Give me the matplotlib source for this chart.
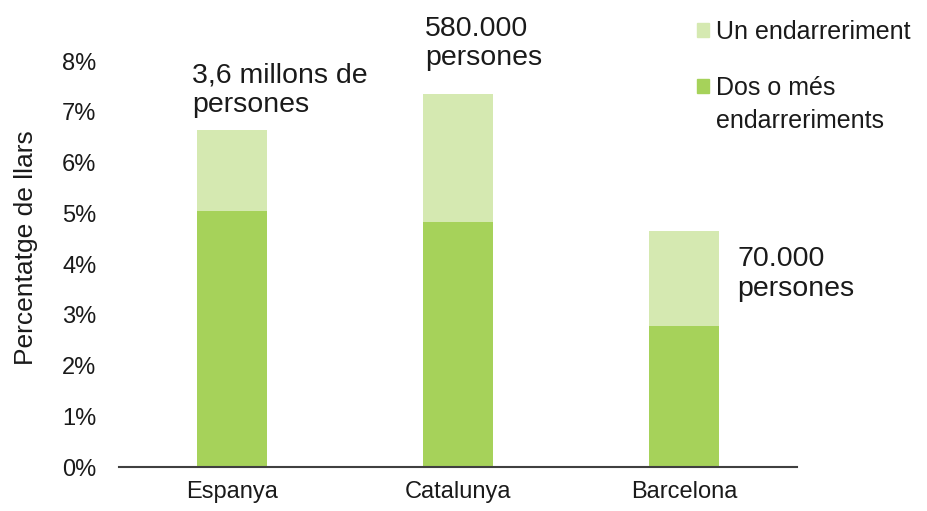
import matplotlib
matplotlib.use("Agg")
import matplotlib.pyplot as plt
from matplotlib.patches import Patch
from matplotlib.ticker import FuncFormatter

plt.rcParams['font.family'] = ['Liberation Sans', 'DejaVu Sans']

# dades (percentatge de llars)
categories = ["Espanya", "Catalunya", "Barcelona"]
dos_o_mes = [5.05, 4.82, 2.78]
un_endarreriment = [1.60, 2.53, 1.87]
etiquetes = ["3,6 millons de\npersones", "580.000\npersones", "70.000\npersones"]

color_fosc = "#a6d25a"
color_clar = "#d5e9b1"
color_text = "#1a1a1a"

fig = plt.figure(figsize=(9.28, 5.11), dpi=100)
ax = fig.add_axes([0.128, 0.0861, 0.731, 0.7945])

x = range(len(categories))
ax.bar(x, dos_o_mes, width=0.31, color=color_fosc)
ax.bar(x, un_endarreriment, width=0.31, bottom=dos_o_mes, color=color_clar)

ax.set_xlim(-0.5, 2.5)
ax.set_ylim(0, 8)
ax.set_yticks(range(0, 9))
ax.yaxis.set_major_formatter(FuncFormatter(lambda v, p: f"{int(v)}%"))
ax.set_xticks(list(x))
ax.set_xticklabels(categories)
ax.tick_params(axis='both', length=0, labelsize=17, colors=color_text)
ax.tick_params(axis='y', pad=16)
ax.tick_params(axis='x', pad=10)
ax.set_ylabel("Percentatge de llars", fontsize=19, color=color_text)
ax.yaxis.set_label_coords(-0.119, 0.54)

for s in ["top", "right", "left"]:
    ax.spines[s].set_visible(False)
ax.spines["bottom"].set_color("#404040")
ax.spines["bottom"].set_linewidth(1.5)

# etiquetes de persones
ax.text(-0.175, 6.88, etiquetes[0], fontsize=20.5, ha='left', va='bottom',
        linespacing=1.18, color=color_text)
ax.text(0.855, 7.8, etiquetes[1], fontsize=20.5, ha='left', va='bottom',
        linespacing=1.18, color=color_text)
ax.text(2.235, 3.80, etiquetes[2], fontsize=20.5, ha='left', va='center',
        linespacing=1.22, color=color_text)

# llegenda (el quadre queda alineat amb la primera línia, com a Excel)
handles = [Patch(color=color_clar), Patch(color=color_fosc)]
labels = ["Un endarreriment", "Dos o més"]
leg = fig.legend(handles, labels, loc='upper left', bbox_to_anchor=(0.732, 0.996),
                 frameon=False, fontsize=18, handlelength=0.5, handleheight=0.5,
                 handletextpad=0.26, labelspacing=1.3, borderaxespad=0.3,
                 labelcolor=color_text)
fig.text(716 / 928, 1 - 121 / 511, "endarreriments", fontsize=18,
         ha='left', va='center', color=color_text)

fig.savefig("out.png", dpi=100)
